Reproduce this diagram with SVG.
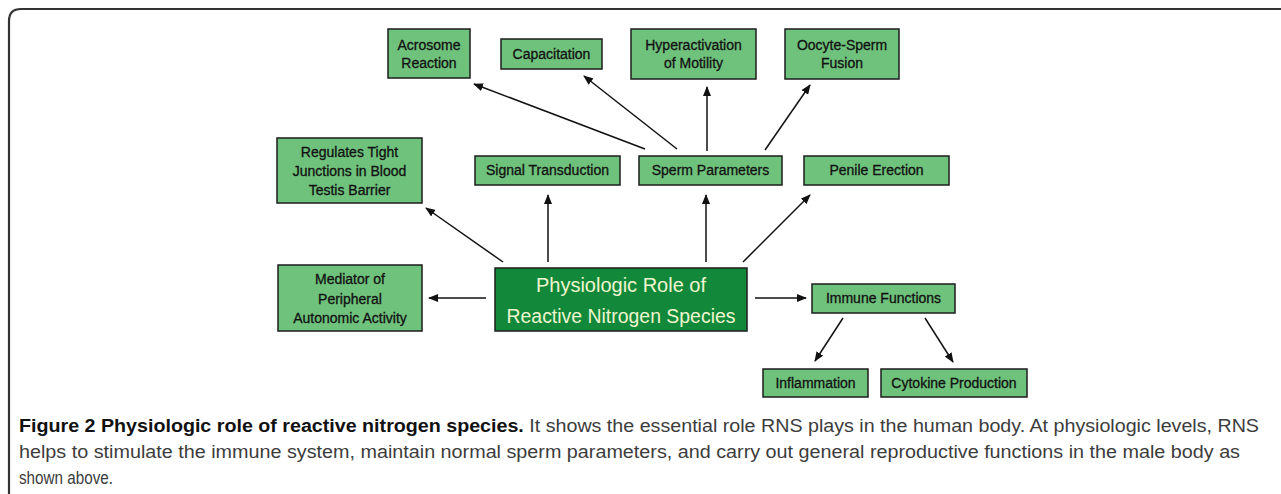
<svg xmlns="http://www.w3.org/2000/svg" width="1281" height="494" viewBox="0 0 1281 494">
<style>
.box{fill:#6fc27c;stroke:#1c1c1c;stroke-width:1.5}
.main{fill:#12893a;stroke:#1c1c1c;stroke-width:1.5}
.t{font-family:"Liberation Sans",Arial,sans-serif;font-size:14px;fill:#111;stroke:#111;stroke-width:0.3;text-anchor:middle}
.mt{font-family:"Liberation Sans",Arial,sans-serif;font-size:20px;fill:#eef5cf;text-anchor:middle}
.cap{font-family:"Liberation Sans",Arial,sans-serif;font-size:17.5px;fill:#3c3c3c}
.cap .b{font-weight:bold;fill:#111}
.conn line{stroke:#111;stroke-width:1.5;marker-end:url(#ah)}
</style>
<defs>
<marker id="ah" markerUnits="userSpaceOnUse" markerWidth="10" markerHeight="8" refX="9" refY="4" orient="auto">
<path d="M0,0 L10,4 L0,8 z" fill="#111"/>
</marker>
</defs>
<rect width="1281" height="494" fill="#fff"/>
<path d="M9,494 L9,21 Q9,9 21,9 L1281,9" fill="none" stroke="#333" stroke-width="2.2"/>

<g id="acrosome"><rect class="box" x="388" y="29" width="82" height="49"/><text class="t" x="429" y="50">Acrosome</text><text class="t" x="429" y="68">Reaction</text></g>
<g id="capacitation"><rect class="box" x="501" y="39" width="101" height="30"/><text class="t" x="551.5" y="59">Capacitation</text></g>
<g id="hyperactivation"><rect class="box" x="631" y="29" width="125" height="50"/><text class="t" x="693.5" y="50">Hyperactivation</text><text class="t" x="693.5" y="68">of Motility</text></g>
<g id="oocyte"><rect class="box" x="785" y="29" width="114" height="50"/><text class="t" x="842" y="50">Oocyte-Sperm</text><text class="t" x="842" y="68">Fusion</text></g>

<g id="regulates"><rect class="box" x="277" y="138" width="145" height="65"/><text class="t" x="349.5" y="157">Regulates Tight</text><text class="t" x="349.5" y="176">Junctions in Blood</text><text class="t" x="349.5" y="195">Testis Barrier</text></g>
<g id="signal"><rect class="box" x="475" y="156" width="145" height="29"/><text class="t" x="547.5" y="175">Signal Transduction</text></g>
<g id="sperm"><rect class="box" x="639" y="156" width="143" height="29"/><text class="t" x="710.5" y="175">Sperm Parameters</text></g>
<g id="penile"><rect class="box" x="804" y="156" width="145" height="29"/><text class="t" x="876.5" y="175">Penile Erection</text></g>

<g id="mediator"><rect class="box" x="278" y="265" width="144" height="66"/><text class="t" x="350" y="284">Mediator of</text><text class="t" x="350" y="304">Peripheral</text><text class="t" x="350" y="323">Autonomic Activity</text></g>
<g id="physiologic"><rect class="main" x="495" y="268" width="252" height="63"/><text class="mt" x="621" y="292">Physiologic Role of</text><text class="mt" x="621" y="323" textLength="229" lengthAdjust="spacingAndGlyphs">Reactive Nitrogen Species</text></g>
<g id="immune"><rect class="box" x="812" y="284" width="143" height="29"/><text class="t" x="883.5" y="303">Immune Functions</text></g>
<g id="inflammation"><rect class="box" x="763" y="369" width="105" height="28"/><text class="t" x="815.5" y="388">Inflammation</text></g>
<g id="cytokine"><rect class="box" x="881" y="369" width="146" height="28"/><text class="t" x="954" y="388">Cytokine Production</text></g>

<g id="connectors" class="conn">
<line x1="645" y1="149" x2="474" y2="84"/>
<line x1="677" y1="149" x2="584" y2="76"/>
<line x1="707" y1="151" x2="707" y2="87"/>
<line x1="765" y1="150" x2="810" y2="85"/>
<line x1="503" y1="262" x2="426" y2="208"/>
<line x1="548" y1="262" x2="548" y2="195"/>
<line x1="706" y1="262" x2="706" y2="195"/>
<line x1="743" y1="262" x2="810" y2="195"/>
<line x1="486" y1="298" x2="429" y2="298"/>
<line x1="755" y1="298" x2="806" y2="298"/>
<line x1="843" y1="318" x2="815" y2="361"/>
<line x1="925" y1="318" x2="953" y2="362"/>
</g>

<g id="caption" class="cap">
<text x="19" y="432" textLength="1240" lengthAdjust="spacingAndGlyphs"><tspan class="b">Figure 2 Physiologic role of reactive nitrogen species.</tspan> It shows the essential role RNS plays in the human body. At physiologic levels, RNS</text>
<text x="19" y="458" textLength="1221" lengthAdjust="spacingAndGlyphs">helps to stimulate the immune system, maintain normal sperm parameters, and carry out general reproductive functions in the male body as</text>
<text x="19" y="484" textLength="94" lengthAdjust="spacingAndGlyphs">shown above.</text>
</g>
</svg>
